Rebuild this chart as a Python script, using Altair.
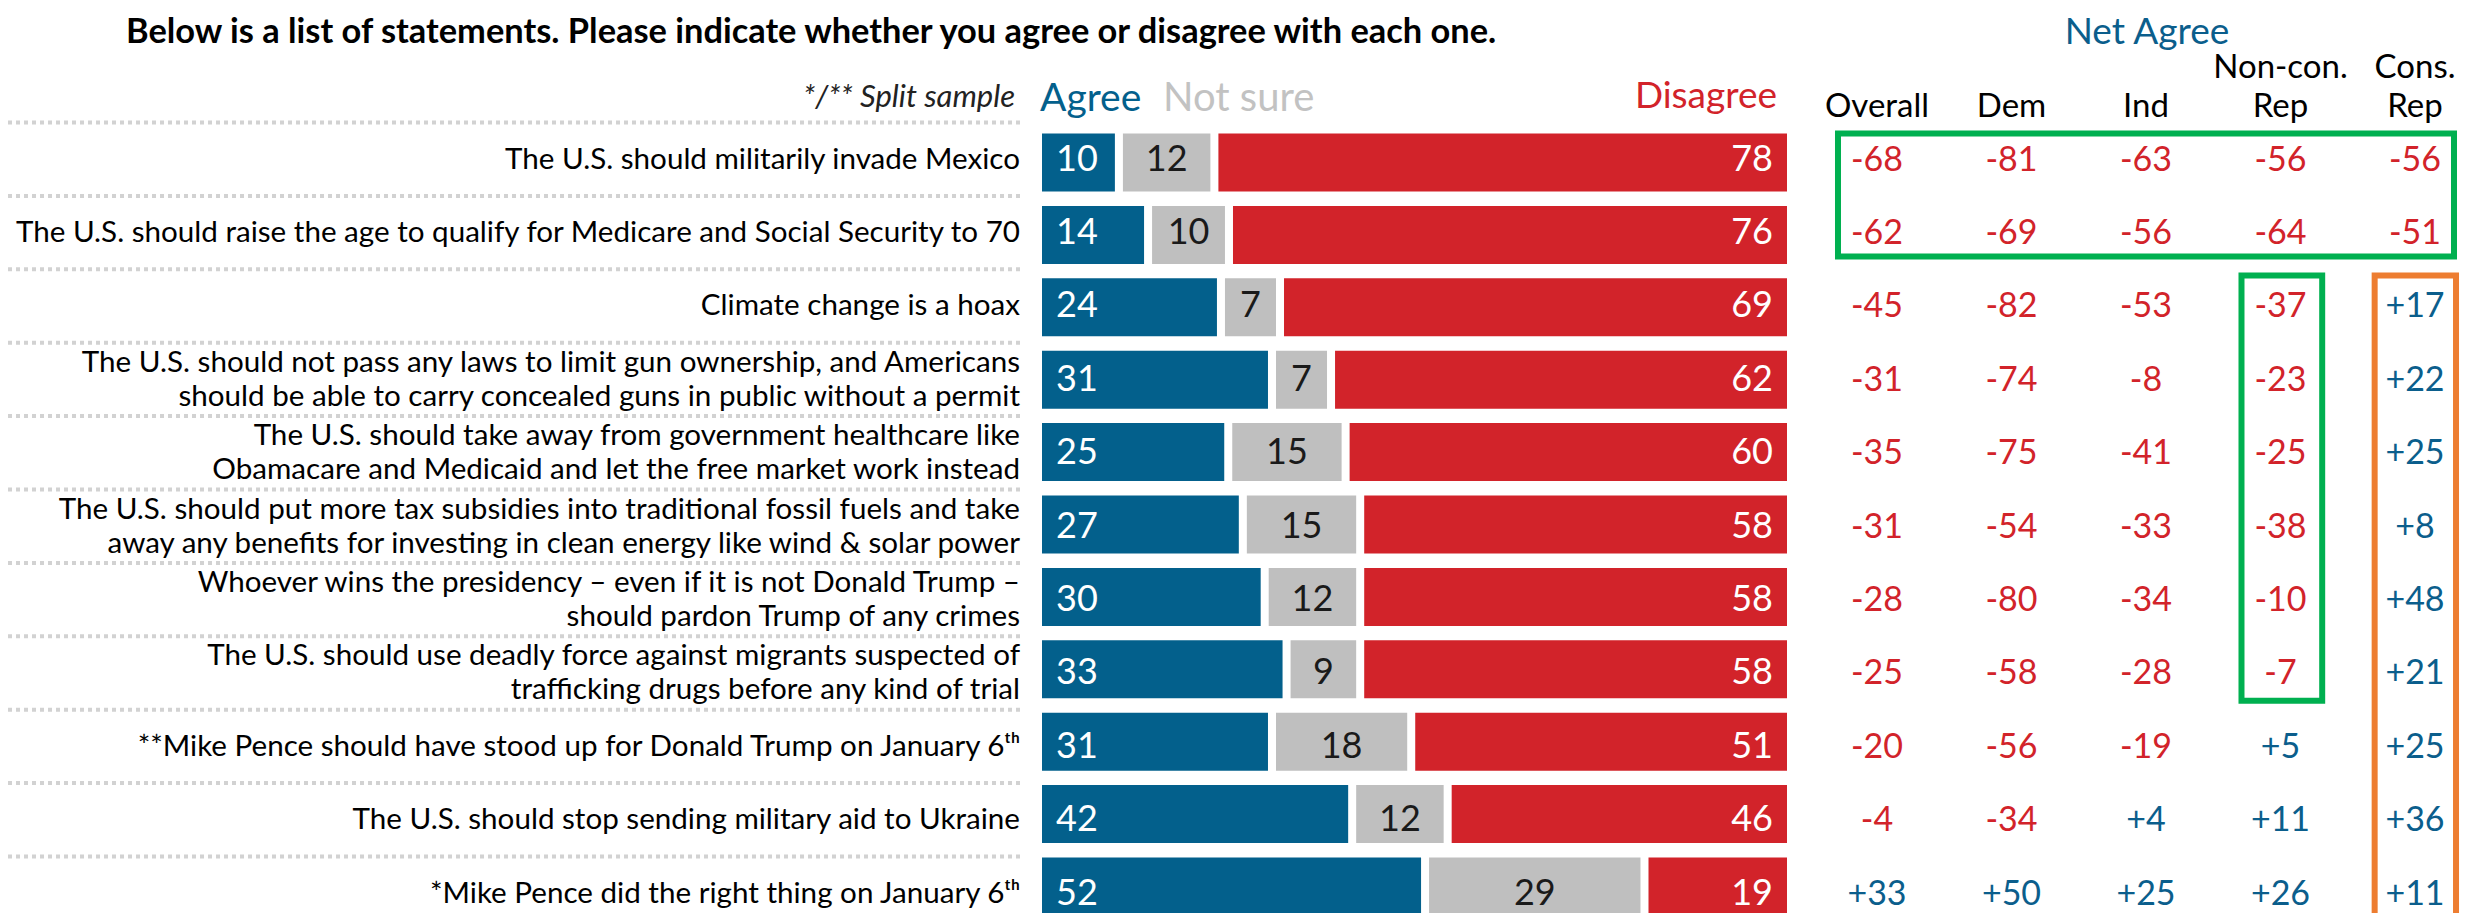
import altair as alt
import pandas as pd

# ---------------- data ----------------
statements = [
    "The U.S. should militarily invade Mexico",
    "The U.S. should raise the age to qualify for Medicare and Social Security to 70",
    "Climate change is a hoax",
    "The U.S. should not pass any laws to limit gun ownership, and Americans\nshould be able to carry concealed guns in public without a permit",
    "The U.S. should take away from government healthcare like\nObamacare and Medicaid and let the free market work instead",
    "The U.S. should put more tax subsidies into traditional fossil fuels and take\naway any benefits for investing in clean energy like wind & solar power",
    "Whoever wins the presidency \u2013 even if it is not Donald Trump \u2013\nshould pardon Trump of any crimes",
    "The U.S. should use deadly force against migrants suspected of\ntrafficking drugs before any kind of trial",
    "**Mike Pence should have stood up for Donald Trump on January 6\u1d57\u02b0",
    "The U.S. should stop sending military aid to Ukraine",
    "*Mike Pence did the right thing on January 6\u1d57\u02b0",
]
agree = [10, 14, 24, 31, 25, 27, 30, 33, 31, 42, 52]
not_sure = [12, 10, 7, 7, 15, 15, 12, 9, 18, 12, 29]
disagree = [78, 76, 69, 62, 60, 58, 58, 58, 51, 46, 19]

groups = ["Overall", "Dem", "Ind", "Non-con. Rep", "Cons. Rep"]
header_line1 = ["", "", "", "Non-con.", "Cons."]
header_line2 = ["Overall", "Dem", "Ind", "Rep", "Rep"]
net_overall = [-68, -62, -45, -31, -35, -31, -28, -25, -20, -4, 33]
net_dem = [-81, -69, -82, -74, -75, -54, -80, -58, -56, -34, 50]
net_ind = [-63, -56, -53, -8, -41, -33, -34, -28, -19, 4, 25]
net_noncon = [-56, -64, -37, -23, -25, -38, -10, -7, 5, 11, 26]
net_cons = [-56, -51, 17, 22, 25, 8, 48, 21, 25, 36, 11]

# highlight boxes (column-index units, row units)
box_x0 = [-0.29, 2.71, 3.70]
box_x1 = [4.29, 3.31, 4.305]
box_y0 = [-0.327, 1.608, 1.608]
box_y1 = [1.349, 7.40, 10.8]
box_kind = ["green", "green", "orange"]

# ---------------- styling ----------------
F = "Lato"
BLUE = "#03608C"
GRAY = "#BFBFBF"
RED = "#D2232A"
NET_BLUE = "#0B5E8C"
GREEN = "#00B050"
ORANGE = "#ED7D31"
GAP = 1.1
ROW_PX = 73.4
LABEL_LH = 34

n = len(statements)
rows = pd.DataFrame({
    "row": list(range(n)),
    "label": statements,
    "agree": agree,
    "not_sure": not_sure,
    "disagree": disagree,
})
rows["a0"] = 0.0
rows["a1"] = rows["agree"]
rows["n0"] = rows["agree"] + GAP
rows["n1"] = rows["agree"] + GAP + rows["not_sure"]
rows["d0"] = rows["agree"] + rows["not_sure"] + 2 * GAP
rows["d1"] = rows["agree"] + rows["not_sure"] + rows["disagree"] + 2 * GAP
rows["nmid"] = (rows["n0"] + rows["n1"]) / 2
rows["sep"] = rows["row"] - 0.477
rows["nlines"] = rows["label"].str.count("\n") + 1
rows["ly"] = rows["row"] - (rows["nlines"] - 1) * (LABEL_LH / 2) / ROW_PX

segs = pd.concat([
    pd.DataFrame({"row": rows["row"], "seg": "Agree", "start": rows["a0"], "end": rows["a1"]}),
    pd.DataFrame({"row": rows["row"], "seg": "Not sure", "start": rows["n0"], "end": rows["n1"]}),
    pd.DataFrame({"row": rows["row"], "seg": "Disagree", "start": rows["d0"], "end": rows["d1"]}),
])

net_cols = [net_overall, net_dem, net_ind, net_noncon, net_cons]
net_records = []
for ci, vals in enumerate(net_cols):
    for ri, v in enumerate(vals):
        net_records.append({
            "row": ri, "col": ci, "value": v,
            "txt": f"{v:+d}",
            "sign": "pos" if v > 0 else "neg",
        })
net = pd.DataFrame(net_records)

heads = pd.DataFrame({"col": list(range(5)), "l1": header_line1, "l2": header_line2})
boxes = pd.DataFrame({"x0": box_x0, "x1": box_x1, "y0": box_y0, "y1": box_y1, "kind": box_kind})

# ---------------- scales ----------------
ys = alt.Scale(domain=[0, 10], range=[149.5, 883.5], nice=False, zero=False)
xs_bar = alt.Scale(domain=[0, 100 + 2 * GAP], range=[1034, 1779], nice=False, zero=False)
xs_net = alt.Scale(domain=[0, 4], range=[1869, 2407], nice=False, zero=False)

Y = alt.Y("row:Q", scale=ys, axis=None)

# separators
seps = alt.Chart(rows).mark_rule(
    color="#d2d2d2", strokeWidth=4, strokeDash=[4, 4]
).encode(
    x=alt.value(0), x2=alt.value(1012),
    y=alt.Y("sep:Q", scale=ys, axis=None),
)

labels = alt.Chart(rows).mark_text(
    align="right", baseline="middle", font=F, fontSize=29.6, lineBreak="\n",
    lineHeight=LABEL_LH, color="#000000", dy=2,
).encode(x=alt.value(1012), y=alt.Y("ly:Q", scale=ys, axis=None), text="label:N")

bars = alt.Chart(segs).mark_bar(size=58).encode(
    x=alt.X("start:Q", scale=xs_bar, axis=None),
    x2="end:Q",
    y=Y,
    color=alt.Color("seg:N", scale=alt.Scale(domain=["Agree", "Not sure", "Disagree"],
                                              range=[BLUE, GRAY, RED]), legend=None),
)

t_agree = alt.Chart(rows).mark_text(
    align="left", baseline="middle", dx=14, dy=2, font=F, fontSize=36, color="white"
).encode(x=alt.X("a0:Q", scale=xs_bar, axis=None), y=Y, text="agree:Q")

t_ns = alt.Chart(rows).mark_text(
    align="center", baseline="middle", dy=2, font=F, fontSize=36, color="#1a1a1a"
).encode(x=alt.X("nmid:Q", scale=xs_bar, axis=None), y=Y, text="not_sure:Q")

t_dis = alt.Chart(rows).mark_text(
    align="right", baseline="middle", dx=-14, dy=2, font=F, fontSize=36, color="white"
).encode(x=alt.X("d1:Q", scale=xs_bar, axis=None), y=Y, text="disagree:Q")

legend_df = pd.DataFrame({"seg": ["Agree", "Not sure", "Disagree"]})
leg_agree = alt.Chart(legend_df).transform_filter(alt.datum.seg == "Agree").mark_text(
    align="left", baseline="alphabetic", font=F, fontSize=39, color=BLUE
).encode(x=alt.value(1032), y=alt.value(103), text="seg:N")
leg_ns = alt.Chart(legend_df).transform_filter(alt.datum.seg == "Not sure").mark_text(
    align="left", baseline="alphabetic", font=F, fontSize=40, color="#C2C2C2"
).encode(x=alt.value(1155), y=alt.value(103), text="seg:N")
leg_dis = alt.Chart(legend_df).transform_filter(alt.datum.seg == "Disagree").mark_text(
    align="right", baseline="alphabetic", font=F, fontSize=37, color=RED
).encode(x=alt.value(1769), y=alt.value(100), text="seg:N")

net_text = alt.Chart(net).mark_text(
    align="center", baseline="middle", font=F, fontSize=34, dy=3
).encode(
    x=alt.X("col:Q", scale=xs_net, axis=None),
    y=Y,
    text="txt:N",
    color=alt.Color("sign:N", scale=alt.Scale(domain=["neg", "pos"], range=[RED, NET_BLUE]), legend=None),
)

head1 = alt.Chart(heads).mark_text(
    align="center", baseline="alphabetic", font=F, fontSize=33, color="#000000"
).encode(x=alt.X("col:Q", scale=xs_net, axis=None), y=alt.value(70), text="l1:N")
head2 = alt.Chart(heads).mark_text(
    align="center", baseline="alphabetic", font=F, fontSize=33, color="#000000"
).encode(x=alt.X("col:Q", scale=xs_net, axis=None), y=alt.value(109), text="l2:N")

box_layer = alt.Chart(boxes).mark_rect(filled=False, strokeWidth=6, clip=True).encode(
    x=alt.X("x0:Q", scale=xs_net, axis=None),
    x2="x1:Q",
    y=alt.Y("y0:Q", scale=ys, axis=None),
    y2="y1:Q",
    stroke=alt.Stroke("kind:N", scale=alt.Scale(domain=["green", "orange"], range=[GREEN, ORANGE]), legend=None),
)

title_df = pd.DataFrame({"t": [
    "Below is a list of statements. Please indicate whether you agree or disagree with each one.",
    "*/** Split sample",
    "Net Agree",
]})
title = alt.Chart(title_df).transform_filter(alt.datum.t == title_df["t"][0]).mark_text(
    align="left", baseline="alphabetic", font=F, fontSize=34.4, fontWeight="bold", color="#000000"
).encode(x=alt.value(118), y=alt.value(35), text="t:N")
split = alt.Chart(title_df).transform_filter(alt.datum.t == title_df["t"][1]).mark_text(
    align="right", baseline="alphabetic", font=F, fontSize=31, fontStyle="italic", color="#222222"
).encode(x=alt.value(1007), y=alt.value(99), text="t:N")
netag = alt.Chart(title_df).transform_filter(alt.datum.t == title_df["t"][2]).mark_text(
    align="center", baseline="alphabetic", font=F, fontSize=37, color=NET_BLUE
).encode(x=alt.value(2139), y=alt.value(36), text="t:N")

chart = alt.layer(
    seps, labels, bars, t_agree, t_ns, t_dis,
    leg_agree, leg_ns, leg_dis,
    net_text, head1, head2, box_layer,
    title, split, netag,
).resolve_scale(x="independent", y="independent", color="independent").properties(
    width=2460, height=905,
    autosize=alt.AutoSizeParams(type="none"),
    padding=0,
).configure_view(stroke=None)

chart.save("out.html", embed_options={"renderer": "svg", "actions": False})
